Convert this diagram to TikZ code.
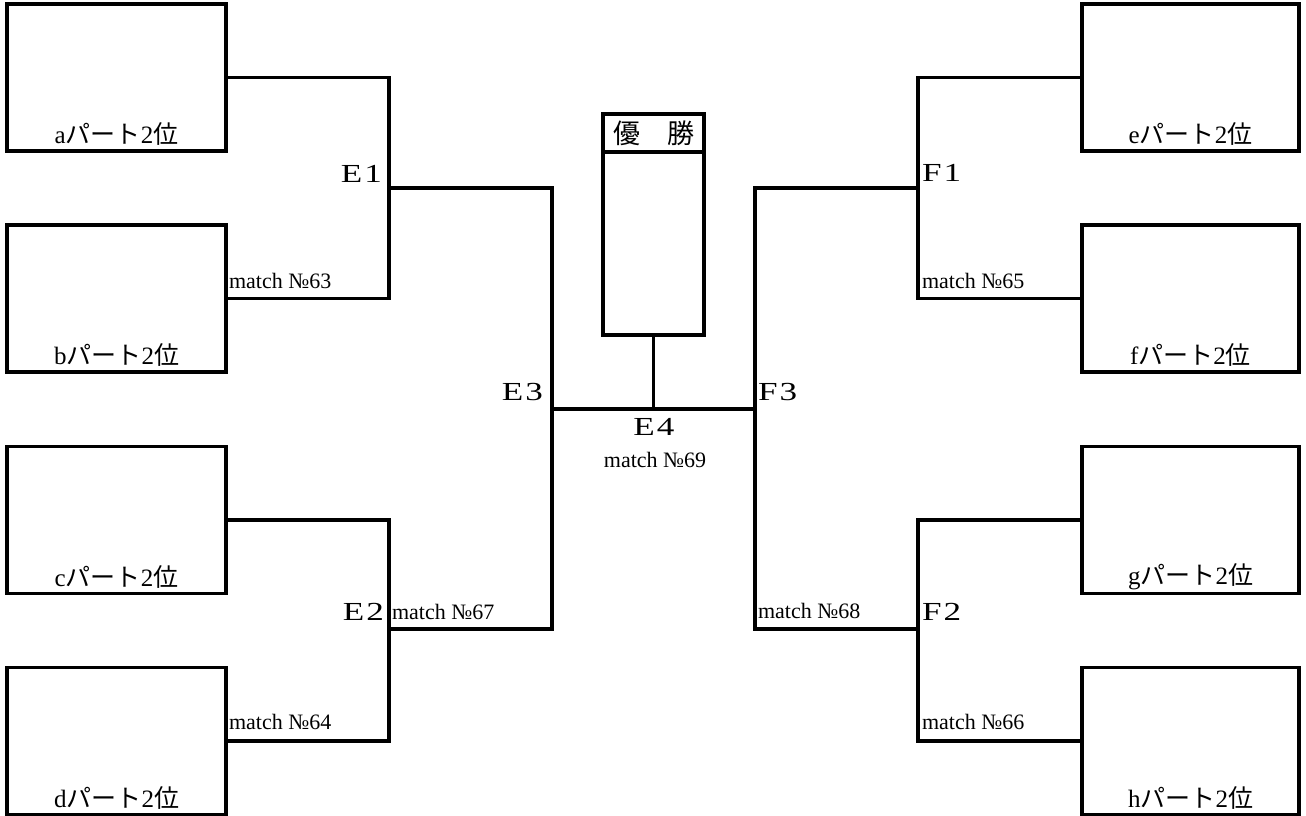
\documentclass[tikz,border=0pt]{standalone}
\usepackage{fontspec}
\setmainfont{Liberation Serif}
\newfontfamily\cjk{Noto Sans CJK JP}
\newfontfamily\widefont[FakeStretch=1.35,LetterSpace=8]{Liberation Serif}
\newcommand{\partlbl}[1]{#1{\cjk パート}2{\cjk 位}}
\begin{document}
\begin{tikzpicture}[x=1pt,y=-1pt,
  every node/.style={inner sep=0pt, outer sep=0pt},
  line/.style={line width=3.2pt, line join=miter, line cap=rect},
  teambox/.style={draw, line width=3.2pt, rectangle, minimum width=219pt, minimum height=147pt},
  rteambox/.style={teambox, minimum width=217pt},
  partlabel/.style={font=\fontsize{25}{27}\selectfont},
  roundlabel/.style={font=\widefont\fontsize{26}{28}\selectfont},
  matchlabel/.style={font=\fontsize{22}{24}\selectfont}]
\useasboundingbox (0,0) rectangle (1306,816);
% team boxes
\node[teambox] (a) at (116.5,77.5) {};
\node[teambox] (b) at (116.5,298.5) {};
\node[teambox] (c) at (116.5,520) {};
\node[teambox] (d) at (116.5,741) {};
\node[rteambox] (e) at (1190.5,77.5) {};
\node[rteambox] (f) at (1190.5,298.5) {};
\node[rteambox] (g) at (1190.5,520) {};
\node[rteambox] (h) at (1190.5,741) {};
% part labels
\node[partlabel] (la) at (116.5,134) {\partlbl{a}};
\node[partlabel] (lb) at (116.5,355) {\partlbl{b}};
\node[partlabel] (lc) at (116.5,577) {\partlbl{c}};
\node[partlabel] (ld) at (116.5,798) {\partlbl{d}};
\node[partlabel] (le) at (1190.5,134) {\partlbl{e}};
\node[partlabel] (lf) at (1190.5,355) {\partlbl{f}};
\node[partlabel] (lg) at (1190.5,577) {\partlbl{g}};
\node[partlabel] (lh) at (1190.5,798) {\partlbl{h}};
% junction coordinates
\coordinate (e1) at (389,188);
\coordinate (e2) at (389,629);
\coordinate (f1) at (918,188);
\coordinate (f2) at (918,629);
\coordinate (e3) at (552,409);
\coordinate (f3) at (755,409);
% champion box
\node[draw, line width=3.2pt, minimum width=101pt, minimum height=221pt] (champ) at (653.5,224.5) {};
\node[draw, line width=3.2pt, minimum width=101pt, minimum height=38pt, anchor=north,
      font=\cjk\fontsize{27}{29}\selectfont] (title) at (champ.north) {優　勝};
% brackets
\draw[line] (a.east) -| (e1) |- (b.east);
\draw[line] (c.east) -| (e2) |- (d.east);
\draw[line] (e.west) -| (f1) |- (f.west);
\draw[line] (g.west) -| (f2) |- (h.west);
\draw[line] (e1) -| (e3);
\draw[line] (e2) -| (e3);
\draw[line] (f1) -| (f3);
\draw[line] (f2) -| (f3);
\draw[line] (e3) -- (f3);
\draw[line] (champ.south) -- (champ.south |- e3);
% round labels
\node[roundlabel, anchor=east] (E1) at (382,174) {E1};
\node[roundlabel, anchor=east] (E2) at (384,612) {E2};
\node[roundlabel, anchor=east] (E3) at (543,392) {E3};
\node[roundlabel] (E4) at (654,427) {E4};
\node[roundlabel, anchor=west] (F1) at (922,173) {F1};
\node[roundlabel, anchor=west] (F2) at (922,612) {F2};
\node[roundlabel, anchor=west] (F3) at (758,392) {F3};
% match labels
\node[matchlabel, anchor=west] (m63) at (229,281) {match №63};
\node[matchlabel, anchor=west] (m64) at (229,722) {match №64};
\node[matchlabel, anchor=west] (m65) at (922,281) {match №65};
\node[matchlabel, anchor=west] (m66) at (922,722) {match №66};
\node[matchlabel, anchor=west] (m67) at (392,612) {match №67};
\node[matchlabel, anchor=west] (m68) at (758,611) {match №68};
\node[matchlabel] (m69) at (655,460) {match №69};
\end{tikzpicture}
\end{document}
